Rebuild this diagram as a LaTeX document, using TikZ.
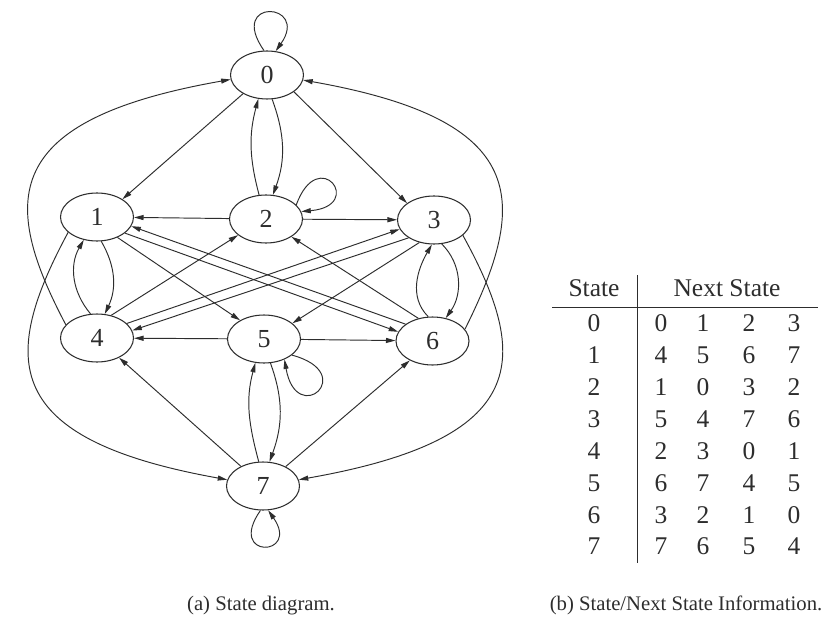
\documentclass[tikz,border=0pt]{standalone}
\usepackage{fontspec}
\setmainfont{Liberation Serif}
\usetikzlibrary{shapes.geometric,arrows.meta}
\definecolor{ink}{RGB}{45,45,45}
\begin{document}
\begin{tikzpicture}[x=1pt,y=1pt,
  st/.style={ellipse,draw=ink,line width=1.05pt,minimum width=73pt,minimum height=48pt,inner sep=0pt,font=\fontsize{26}{30}\selectfont,text=ink},
  tr/.style={draw=ink,line width=0.95pt,-{Triangle[length=9.5pt,width=5pt]}},
  cell/.style={inner sep=0pt,font=\fontsize{25.5}{30}\selectfont,text=ink},
  captext/.style={inner sep=0pt,anchor=base,font=\fontsize{20.7}{24}\selectfont,text=ink},
  tabrule/.style={draw=ink,line width=1pt}]
\useasboundingbox (0,0) rectangle (821,-620);
\fill[white] (0,0) rectangle (821,-620);
% states
\node[st] (s0) at (267,-75) {0};
\node[st] (s1) at (97,-217) {1};
\node[st] (s2) at (266,-219) {2};
\node[st] (s3) at (434,-220) {3};
\node[st] (s4) at (97,-338) {4};
\node[st] (s5) at (264,-339) {5};
\node[st] (s6) at (432.5,-341) {6};
\node[st] (s7) at (263,-486) {7};
% self loops
\draw[tr] (s0.97) .. controls +(125:65) and +(55:60) .. (s0.70);
\draw[tr] (s2.25) .. controls +(70:65) and +(5:65) .. (s2.12);
\draw[tr] (s5.-30) .. controls +(-15:70) and +(-80:70) .. (s5.-45);
\draw[tr] (s7.264) .. controls +(-125:60) and +(-55:57) .. (s7.282);
% paired curves
\draw[tr] (s2.106) to[out=105,in=-105] (s0.250);
\draw[tr] (s0.282) to[out=-70,in=70] (s2.74);
\draw[tr] (s7.100) to[out=105,in=-105] (s5.250);
\draw[tr] (s5.285) to[out=-70,in=70] (s7.75);
\draw[tr] (s4.105) to[out=130,in=-120] (s1.240);
\draw[tr] (s1.280) to[out=-60,in=65] (s4.72);
\draw[tr] (s6.100) to[out=135,in=-120] (s3.265);
\draw[tr] (s3.288) to[out=-45,in=55] (s6.60);
% straight edges
\draw[tr] (s0.218) -- (s1.35);
\draw[tr] (s0.-32) -- (s3.148);
\draw[tr] (s2) -- (s1);
\draw[tr] (s2) -- (s3);
\draw[tr] (s5) -- (s4);
\draw[tr] (s5) -- (s6);
\draw[tr] (s7) -- (s4);
\draw[tr] (s7) -- (s6);
\draw[tr] (s1.-45) -- (s5.142);
\draw[tr] (s1.-30) -- (s6.165);
\draw[tr] (s6.148) -- (s1.-15);
\draw[tr] (s4.58) -- (s2.210);
\draw[tr] (s4.26) -- (s3.195);
\draw[tr] (s3.215) -- (s4.12);
\draw[tr] (s3.237) -- (s5.29);
\draw[tr] (s6.122) -- (s2.-35);
% outer curves
\draw[tr] (s4.157) .. controls (0,-200) and (0,-120) .. (s0.187);
\draw[tr] (s6.20) .. controls (529.5,-200) and (529.5,-120) .. (s0.-8);
\draw[tr] (s1.208) .. controls (0,-359) and (0,-439) .. (s7.170);
\draw[tr] (s3.-28) .. controls (531,-359) and (531,-439) .. (s7.10);
% table
\node[cell,anchor=base] (h1) at (594,-296.7) {State};
\node[cell,anchor=base] (h2) at (727,-296.7) {Next State};
\coordinate (rl) at (552,-307);
\coordinate (rr) at (818,-307);
\coordinate (vt) at (637,-275);
\coordinate (vb) at (637,-563);
\draw[tabrule] (rl) -- (rr);
\draw[tabrule] (vt) -- (vb);
\foreach \s/\a/\b/\c/\d [count=\i from 0] in {0/0/1/2/3,1/4/5/6/7,2/1/0/3/2,3/5/4/7/6,4/2/3/0/1,5/6/7/4/5,6/3/2/1/0,7/7/6/5/4}{
  \node[cell] (t\i s) at (594,{-323.3-31.9*\i}) {\s};
  \node[cell] (t\i a) at (661,{-323.3-31.9*\i}) {\a};
  \node[cell] (t\i b) at (703,{-323.3-31.9*\i}) {\b};
  \node[cell] (t\i c) at (749,{-323.3-31.9*\i}) {\c};
  \node[cell] (t\i d) at (794,{-323.3-31.9*\i}) {\d};
}
% captions
\node[captext] (capa) at (261,-610) {(a) State diagram.};
\node[captext] (capb) at (686,-610) {(b) State/Next State Information.};
\end{tikzpicture}
\end{document}
